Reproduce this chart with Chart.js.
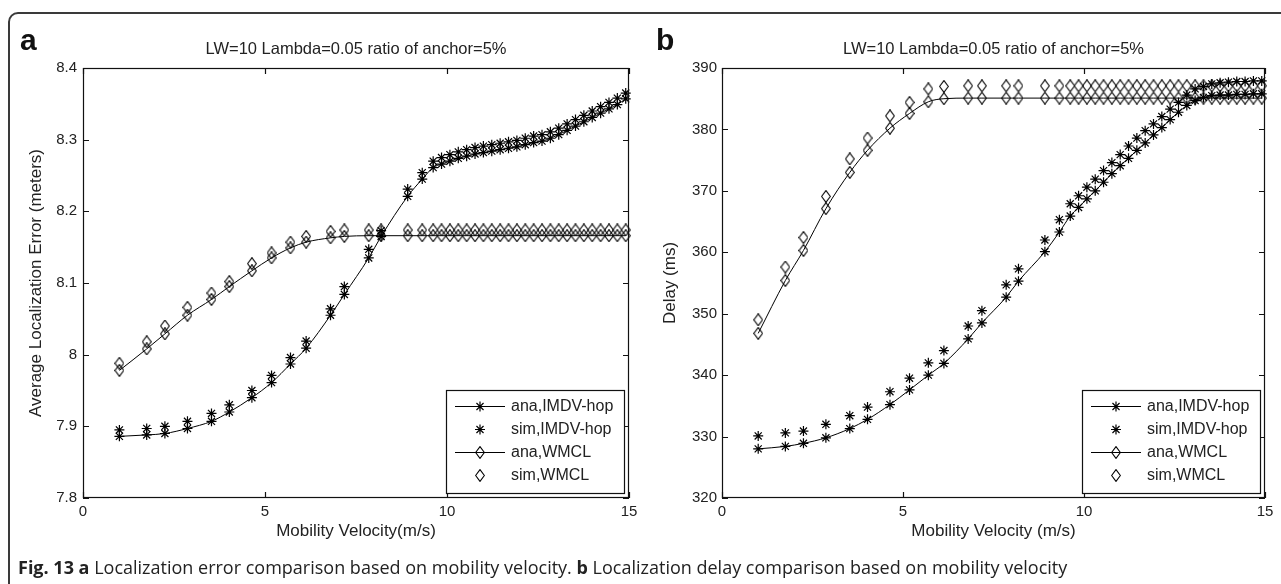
<!DOCTYPE html>
<html>
<head>
<meta charset="utf-8">
<title>Fig. 13</title>
<script src="https://cdn.jsdelivr.net/npm/chart.js@4.4.1/dist/chart.umd.min.js"></script>
<style>
  html, body { margin: 0; padding: 0; background: #fff; width: 1281px; height: 584px; overflow: hidden; }
  #fig { position: relative; width: 1281px; height: 584px; }
  #frame { position: absolute; left: 8px; top: 12px; width: 1300px; height: 620px;
           border: 2px solid #3a3a3a; border-radius: 10px; box-sizing: border-box; }
  canvas { position: absolute; top: 0; }
  #cvA { left: 0; }
  #cvB { left: 640px; }
  #caption { position: absolute; left: 18px; top: 556px; font: 18px "Open Sans", sans-serif;
             color: #222; white-space: nowrap; line-height: 22px; }
  #caption b { font-weight: 700; }
</style>
</head>
<body>
<div id="fig">
  <div id="frame"></div>
  <canvas id="cvA" width="640" height="584"></canvas>
  <canvas id="cvB" width="641" height="584"></canvas>
  <div id="caption"><b>Fig. 13 a</b> Localization error comparison based on mobility velocity. <b>b</b> Localization delay comparison based on mobility velocity</div>
</div>
<script>
// Mobility velocity (m/s) at which every curve is sampled
const velocity = [1, 1.75, 2.25, 2.87, 3.53, 4.02, 4.64, 5.18, 5.7, 6.13, 6.8, 7.18, 7.85, 8.19, 8.92, 9.32,
  9.62, 9.85, 10.08, 10.31, 10.54, 10.77, 11.0, 11.23, 11.46, 11.69, 11.92, 12.15, 12.38, 12.61, 12.84, 13.07,
  13.3, 13.53, 13.76, 13.99, 14.22, 14.45, 14.68, 14.91];

// Panel a: average localization error (meters)
const errAnaIMDV = [7.886, 7.888, 7.890, 7.897, 7.907, 7.920, 7.940, 7.961, 7.987, 8.009, 8.055, 8.084, 8.135, 8.165, 8.221, 8.245,
  8.261, 8.266, 8.270, 8.274, 8.277, 8.280, 8.282, 8.284, 8.286, 8.288, 8.290, 8.293, 8.296, 8.298, 8.302, 8.307,
  8.313, 8.319, 8.325, 8.331, 8.337, 8.343, 8.349, 8.357];
const errSimIMDV = [7.895, 7.897, 7.900, 7.907, 7.918, 7.930, 7.950, 7.971, 7.996, 8.019, 8.064, 8.095, 8.147, 8.173, 8.231, 8.254,
  8.270, 8.275, 8.279, 8.283, 8.286, 8.289, 8.291, 8.293, 8.295, 8.297, 8.299, 8.302, 8.305, 8.307, 8.311, 8.316,
  8.322, 8.328, 8.334, 8.340, 8.346, 8.352, 8.358, 8.365];
const errAnaWMCL = [7.978, 8.008, 8.029, 8.055, 8.077, 8.095, 8.117, 8.135, 8.149, 8.157, 8.163, 8.165, 8.166, 8.166, 8.166, 8.166,
  8.166, 8.166, 8.166, 8.166, 8.166, 8.166, 8.166, 8.166, 8.166, 8.166, 8.166, 8.166, 8.166, 8.166, 8.166, 8.166,
  8.166, 8.166, 8.166, 8.166, 8.166, 8.166, 8.166, 8.166];
const errSimWMCL = [7.988, 8.018, 8.040, 8.066, 8.086, 8.102, 8.127, 8.142, 8.157, 8.165, 8.172, 8.174, 8.174, 8.174, 8.174, 8.174,
  8.174, 8.174, 8.174, 8.174, 8.174, 8.174, 8.174, 8.174, 8.174, 8.174, 8.174, 8.174, 8.174, 8.174, 8.174, 8.174,
  8.174, 8.174, 8.174, 8.174, 8.174, 8.174, 8.174, 8.174];

// Panel b: localization delay (ms)
const delayAnaIMDV = [328.0, 328.4, 328.9, 329.8, 331.3, 332.8, 335.2, 337.6, 340.0, 341.9, 345.9, 348.5, 352.7, 355.3, 360.1, 363.3,
  365.9, 367.3, 368.7, 370.0, 371.4, 372.8, 374.1, 375.3, 376.6, 377.8, 379.1, 380.3, 381.6, 382.8, 383.9, 384.7,
  385.2, 385.5, 385.6, 385.6, 385.7, 385.7, 385.8, 385.8];
const delaySimIMDV = [330.1, 330.6, 330.9, 332.0, 333.4, 334.8, 337.3, 339.5, 342.0, 344.0, 348.0, 350.5, 354.7, 357.3, 362.0, 365.3,
  367.9, 369.2, 370.6, 371.9, 373.3, 374.6, 375.9, 377.3, 378.6, 379.8, 380.9, 382.1, 383.3, 384.4, 385.6, 386.6,
  387.0, 387.4, 387.6, 387.7, 387.8, 387.8, 387.9, 387.9];
const delayAnaWMCL = [346.8, 355.4, 360.3, 367.1, 373.0, 376.6, 380.2, 382.6, 384.5, 385.0, 385.1, 385.1, 385.1, 385.1, 385.1, 385.1,
  385.1, 385.1, 385.1, 385.1, 385.1, 385.1, 385.1, 385.1, 385.1, 385.1, 385.1, 385.1, 385.1, 385.1, 385.1, 385.1,
  385.1, 385.1, 385.1, 385.1, 385.1, 385.1, 385.1, 385.1];
const delaySimWMCL = [349.0, 357.6, 362.4, 369.1, 375.2, 378.6, 382.2, 384.4, 386.6, 387.0, 387.1, 387.1, 387.1, 387.1, 387.1, 387.1,
  387.1, 387.1, 387.1, 387.1, 387.1, 387.1, 387.1, 387.1, 387.1, 387.1, 387.1, 387.1, 387.1, 387.1, 387.1, 387.1,
  387.1, 387.1, 387.1, 387.1, 387.1, 387.1, 387.1, 387.1];

// Series names and axis tick labels
const seriesNames = ['ana,IMDV-hop', 'sim,IMDV-hop', 'ana,WMCL', 'sim,WMCL'];
const velocityTicks = [0, 5, 10, 15];
const velocityTickLabels = ['0', '5', '10', '15'];
const errTicks = [7.8, 7.9, 8.0, 8.1, 8.2, 8.3, 8.4];
const errTickLabels = ['7.8', '7.9', '8', '8.1', '8.2', '8.3', '8.4'];
const delayTicks = [320, 330, 340, 350, 360, 370, 380, 390];
const delayTickLabels = ['320', '330', '340', '350', '360', '370', '380', '390'];
const plotTitle = 'LW=10 Lambda=0.05 ratio of anchor=5%';

const FONT = '"Liberation Sans", Arial, Helvetica, sans-serif';
const INK = '#000';

// Outline diamond used as a point marker
function diamondMarker(w, h) {
  const c = document.createElement('canvas');
  c.width = w; c.height = h;
  const g = c.getContext('2d');
  g.strokeStyle = INK; g.lineWidth = 1.1;
  g.beginPath();
  g.moveTo(w / 2, 0.6); g.lineTo(w - 0.6, h / 2); g.lineTo(w / 2, h - 0.6); g.lineTo(0.6, h / 2);
  g.closePath(); g.stroke();
  return c;
}
const diamond = diamondMarker(10, 13);

const pts = ys => velocity.map((x, i) => ({ x, y: ys[i] }));

// Box, inward ticks, title, panel tag and in-axes legend
const panelDecor = {
  id: 'panelDecor',
  afterDraw(chart, args, o) {
    const { ctx, chartArea: a, scales: { x, y } } = chart;
    ctx.save();
    ctx.strokeStyle = '#111'; ctx.lineWidth = 1.2;
    ctx.strokeRect(a.left + 0.5, a.top + 0.5, a.right - a.left - 1, a.bottom - a.top - 1);
    const T = 6;
    ctx.beginPath();
    x.ticks.forEach(t => {
      const px = Math.round(x.getPixelForValue(t.value)) + 0.5;
      ctx.moveTo(px, a.bottom); ctx.lineTo(px, a.bottom - T);
      ctx.moveTo(px, a.top); ctx.lineTo(px, a.top + T);
    });
    y.ticks.forEach(t => {
      const py = Math.round(y.getPixelForValue(t.value)) + 0.5;
      ctx.moveTo(a.left, py); ctx.lineTo(a.left + T, py);
      ctx.moveTo(a.right, py); ctx.lineTo(a.right - T, py);
    });
    ctx.stroke();

    // title
    ctx.fillStyle = '#222';
    ctx.font = '16.5px ' + FONT;
    ctx.textAlign = 'center'; ctx.textBaseline = 'alphabetic';
    ctx.fillText(o.title, (a.left + a.right) / 2, 54);

    // panel tag
    ctx.fillStyle = '#111';
    ctx.font = 'bold 30px ' + FONT;
    ctx.textAlign = 'left';
    ctx.fillText(o.tag, o.tagX, 50);

    // legend
    const bw = 178, bh = 103;
    const bx = a.right - 5 - bw, by = a.bottom - 5 - bh;
    ctx.fillStyle = '#fff';
    ctx.fillRect(bx, by, bw, bh);
    ctx.strokeStyle = '#111'; ctx.lineWidth = 1.2;
    ctx.strokeRect(Math.round(bx) + 0.5, Math.round(by) + 0.5, bw, bh);
    ctx.font = '16px ' + FONT;
    ctx.textBaseline = 'middle';
    chart.data.datasets.forEach((ds, i) => {
      const ry = Math.round(by + 16 + 23 * i) + 0.5;
      ctx.strokeStyle = INK; ctx.fillStyle = INK; ctx.lineWidth = 1;
      if (ds.showLine) {
        ctx.beginPath();
        ctx.moveTo(bx + 9, ry); ctx.lineTo(bx + 59, ry);
        ctx.stroke();
      }
      ctx.lineWidth = ds.pointBorderWidth;
      Chart.helpers.drawPoint(ctx, { pointStyle: ds.pointStyle, radius: ds.pointRadius, borderWidth: ds.pointBorderWidth, rotation: 0 }, bx + 34, ry);
      ctx.fillStyle = '#222';
      ctx.fillText(ds.label, bx + 65, ry + 0.5);
    });
    ctx.restore();
  }
};

function buildPanel(id, cfg) {
  const mk = (k, ys) => {
    const isAna = k % 2 === 0;
    const isStar = k < 2;
    return {
      label: seriesNames[k],
      data: pts(ys),
      showLine: isAna,
      borderColor: INK,
      borderWidth: 1,
      cubicInterpolationMode: 'monotone',
      pointStyle: isStar ? 'star' : diamond,
      pointRadius: isStar ? 5 : 6,
      pointBorderWidth: 1.2,
      pointBorderColor: INK,
      pointBackgroundColor: INK,
      clip: 8
    };
  };
  const tickFont = { family: FONT, size: 15 };
  const titleFont = { family: FONT, size: 17 };
  return new Chart(document.getElementById(id), {
    type: 'scatter',
    data: { datasets: cfg.series.map((s, k) => mk(k, s)) },
    options: {
      responsive: false, animation: false, devicePixelRatio: 1, events: [],
      layout: { padding: cfg.padding },
      plugins: {
        legend: { display: false }, tooltip: { enabled: false },
        panelDecor: { title: plotTitle, tag: cfg.tag, tagX: cfg.tagX }
      },
      scales: {
        x: {
          type: 'linear', position: 'bottom', min: 0, max: 15,
          afterBuildTicks: s => { s.ticks = velocityTicks.map(v => ({ value: v })); },
          afterFit: s => { s.height = 48; s.paddingLeft = 0; s.paddingRight = 0; },
          ticks: { font: tickFont, color: '#222', padding: 5, maxRotation: 0, autoSkip: false,
                   callback: (v, i) => velocityTickLabels[i] },
          grid: { display: false, drawTicks: false },
          border: { display: false },
          title: { display: true, text: cfg.xTitle, font: titleFont, color: '#222', padding: { top: 4, bottom: 4 } }
        },
        y: {
          type: 'linear', position: 'left', min: cfg.yTicks[0], max: cfg.yTicks[cfg.yTicks.length - 1],
          afterBuildTicks: s => { s.ticks = cfg.yTicks.map(v => ({ value: v })); },
          afterFit: s => { s.width = cfg.yWidth; s.paddingTop = 0; s.paddingBottom = 0; },
          ticks: { font: tickFont, color: '#222', padding: cfg.yPad, autoSkip: false,
                   callback: (v, i) => cfg.yLabels[i] },
          grid: { display: false, drawTicks: false },
          border: { display: false },
          title: { display: true, text: cfg.yTitle, font: titleFont, color: '#222', padding: { top: 4, bottom: 4 } }
        }
      }
    },
    plugins: [panelDecor]
  });
}

buildPanel('cvA', {
  tag: 'a', tagX: 20,
  series: [errAnaIMDV, errSimIMDV, errAnaWMCL, errSimWMCL],
  yTicks: errTicks, yLabels: errTickLabels,
  xTitle: 'Mobility Velocity(m/s)', yTitle: 'Average Localization Error (meters)',
  padding: { left: 22, top: 68, right: 11, bottom: 38 }, yWidth: 61, yPad: 6
});

buildPanel('cvB', {
  tag: 'b', tagX: 16,
  series: [delayAnaIMDV, delaySimIMDV, delayAnaWMCL, delaySimWMCL],
  yTicks: delayTicks, yLabels: delayTickLabels,
  xTitle: 'Mobility Velocity (m/s)', yTitle: 'Delay (ms)',
  padding: { left: 16, top: 68, right: 16, bottom: 38 }, yWidth: 66, yPad: 5
});
</script>
</body>
</html>
